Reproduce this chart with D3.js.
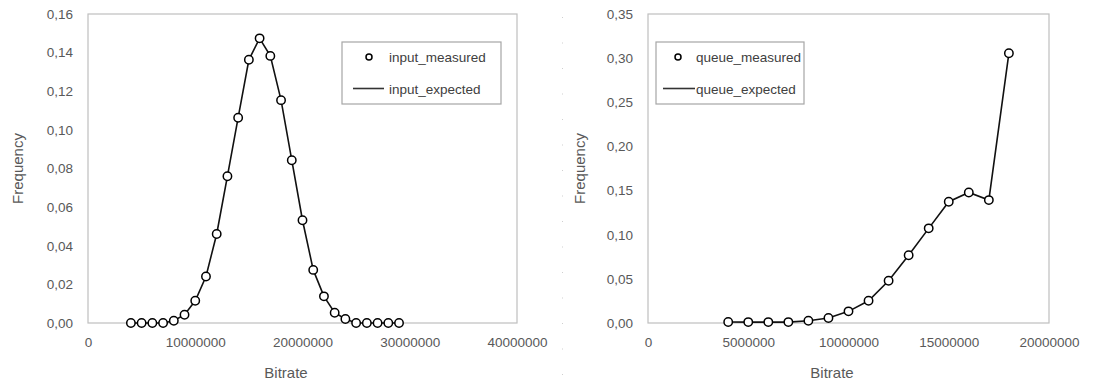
<!DOCTYPE html>
<html>
<head>
<meta charset="utf-8">
<script src="https://cdn.jsdelivr.net/npm/d3@7"></script>
<style>
  html, body { margin: 0; padding: 0; background: #fff; }
  svg { display: block; font-family: "Liberation Sans", Arial, sans-serif; }
</style>
</head>
<body>
<svg id="chart" width="1117" height="385"></svg>
<script>
// Input bitrate distribution (bitrate in bit/s, frequency)
const inputBitrate = [4e6, 5e6, 6e6, 7e6, 8e6, 9e6, 10e6, 11e6, 12e6, 13e6, 14e6, 15e6, 16e6,
  17e6, 18e6, 19e6, 20e6, 21e6, 22e6, 23e6, 24e6, 25e6, 26e6, 27e6, 28e6, 29e6];
const inputMeasured = [0, 0, 0, 0, 0.0012, 0.0043, 0.0115, 0.0241, 0.0461, 0.0760, 0.1063, 0.1363, 0.1474,
  0.1383, 0.1154, 0.0843, 0.0532, 0.0275, 0.0138, 0.0053, 0.0021, 0, 0, 0, 0, 0];
const inputExpected = inputMeasured.slice();

// Queue output bitrate distribution
const queueBitrate = [4e6, 5e6, 6e6, 7e6, 8e6, 9e6, 10e6, 11e6, 12e6, 13e6, 14e6, 15e6, 16e6, 17e6, 18e6];
const queueMeasured = [0.0011, 0.001, 0.001, 0.001, 0.0026, 0.0056, 0.0132, 0.0252, 0.0478, 0.0768,
  0.1072, 0.1374, 0.1479, 0.1392, 0.3056];
const queueExpected = queueMeasured.slice();

// Axis ticks
const inputXTicks = [0, 10000000, 20000000, 30000000, 40000000];
const inputYTicks = [0, 0.02, 0.04, 0.06, 0.08, 0.10, 0.12, 0.14, 0.16];
const queueXTicks = [0, 5000000, 10000000, 15000000, 20000000];
const queueYTicks = [0, 0.05, 0.10, 0.15, 0.20, 0.25, 0.30, 0.35];

const svg = d3.select("#chart");
const textColor = "#595959";
const frameColor = "#bfbfbf";
const fmtY = d => d3.format(".2f")(d).replace(".", ",");

function drawPanel(cfg) {
  const x = d3.scaleLinear().domain(cfg.xDomain).range([cfg.left, cfg.right]);
  const y = d3.scaleLinear().domain(cfg.yDomain).range([cfg.bottom, cfg.top]);
  const g = svg.append("g");

  // plot frame
  g.append("rect")
    .attr("x", cfg.left).attr("y", cfg.top)
    .attr("width", cfg.right - cfg.left).attr("height", cfg.bottom - cfg.top)
    .attr("fill", "none").attr("stroke", frameColor).attr("stroke-width", 1.2);

  // y axis
  const ya = g.append("g").attr("transform", `translate(${cfg.left},0)`)
    .call(d3.axisLeft(y).tickValues(cfg.yTicks).tickFormat(fmtY).tickSize(0).tickPadding(15));
  ya.select(".domain").remove();
  ya.selectAll("text").attr("fill", textColor).style("font-size", "13.5px")
    .style("font-family", "Liberation Sans, Arial, sans-serif");

  // x axis
  const xa = g.append("g").attr("transform", `translate(0,${cfg.bottom})`)
    .call(d3.axisBottom(x).tickValues(cfg.xTicks).tickFormat(d3.format("d")).tickSize(0).tickPadding(14));
  xa.select(".domain").remove();
  xa.selectAll("text").attr("fill", textColor).style("font-size", "13.5px")
    .style("font-family", "Liberation Sans, Arial, sans-serif");

  // axis titles
  g.append("text").attr("x", cfg.xTitleX).attr("y", 378)
    .attr("text-anchor", "middle").attr("fill", textColor)
    .style("font-size", "15px").text("Bitrate");
  g.append("text")
    .attr("transform", `translate(${cfg.yTitleX},${(cfg.top + cfg.bottom) / 2}) rotate(-90)`)
    .attr("text-anchor", "middle").attr("fill", textColor)
    .style("font-size", "15px").text("Frequency");

  // expected curve
  const line = d3.line().x((d, i) => x(cfg.xs[i])).y(d => y(d));
  g.append("path").datum(cfg.expected)
    .attr("d", line).attr("fill", "none").attr("stroke", "#111").attr("stroke-width", 1.6);

  // measured points
  g.selectAll("circle.pt").data(cfg.measured).join("circle")
    .attr("class", "pt")
    .attr("cx", (d, i) => x(cfg.xs[i])).attr("cy", d => y(d)).attr("r", 4.2)
    .attr("fill", "#fff").attr("stroke", "#000").attr("stroke-width", 1.5);

  // legend
  const L = cfg.legend;
  const lg = g.append("g");
  lg.append("rect").attr("x", L.x).attr("y", L.y).attr("width", L.w).attr("height", L.h)
    .attr("fill", "#fff").attr("stroke", "#a6a6a6").attr("stroke-width", 1.2);
  lg.append("circle").attr("cx", L.markX).attr("cy", L.y + 15).attr("r", 3)
    .attr("fill", "#fff").attr("stroke", "#000").attr("stroke-width", 1.5);
  lg.append("line").attr("x1", L.lineX1).attr("x2", L.lineX2)
    .attr("y1", L.y + 46.5).attr("y2", L.y + 46.5)
    .attr("stroke", "#333").attr("stroke-width", 1.6);
  lg.append("text").attr("x", L.textX).attr("y", L.y + 20).attr("fill", "#404040")
    .style("font-size", "13.5px").text(cfg.names[0]);
  lg.append("text").attr("x", L.textX).attr("y", L.y + 51.5).attr("fill", "#404040")
    .style("font-size", "13.5px").text(cfg.names[1]);
}

drawPanel({
  left: 88, right: 517, top: 14, bottom: 323,
  xDomain: [0, 40000000], yDomain: [0, 0.16],
  xTicks: inputXTicks, yTicks: inputYTicks,
  xs: inputBitrate, measured: inputMeasured, expected: inputExpected,
  xTitleX: 286, yTitleX: 23,
  names: ["input_measured", "input_expected"],
  legend: { x: 342, y: 42, w: 159, h: 62, markX: 369, lineX1: 353, lineX2: 384, textX: 389 }
});

drawPanel({
  left: 648, right: 1049, top: 14, bottom: 323,
  xDomain: [0, 20000000], yDomain: [0, 0.35],
  xTicks: queueXTicks, yTicks: queueYTicks,
  xs: queueBitrate, measured: queueMeasured, expected: queueExpected,
  xTitleX: 832, yTitleX: 585,
  names: ["queue_measured", "queue_expected"],
  legend: { x: 656, y: 42, w: 148, h: 62, markX: 678, lineX1: 663, lineX2: 695, textX: 696 }
});

// faint dotted separator between the two panels
svg.append("line").attr("x1", 562.5).attr("x2", 562.5).attr("y1", 17).attr("y2", 385)
  .attr("stroke", "#cfcfcf").attr("stroke-width", 1).attr("stroke-dasharray", "1,24.5");
</script>
</body>
</html>
